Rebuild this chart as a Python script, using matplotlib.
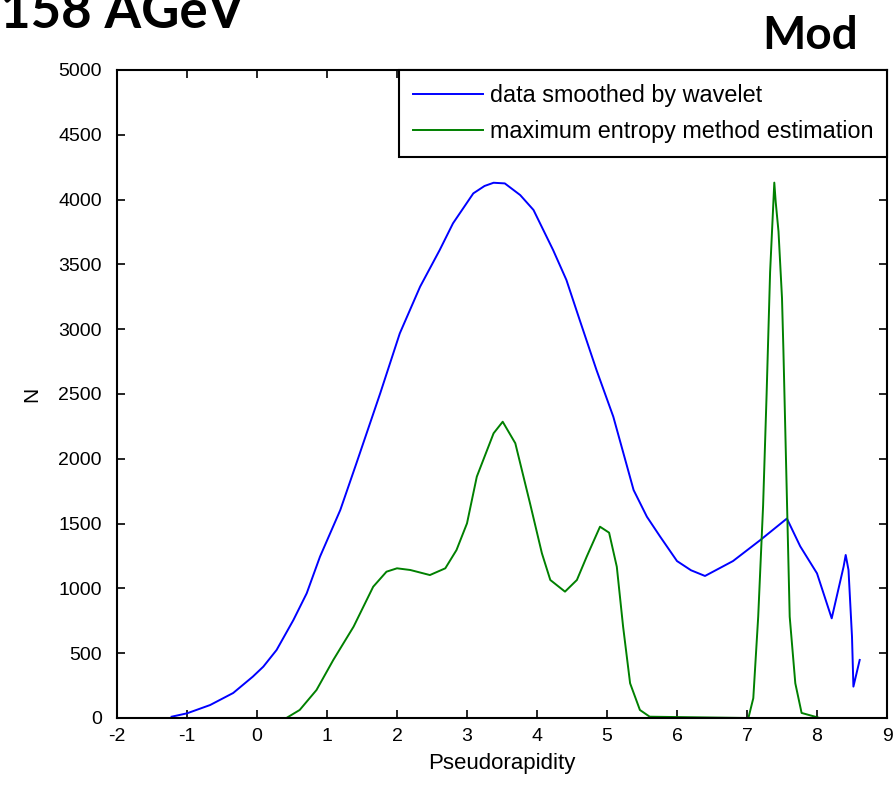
import matplotlib
matplotlib.use("Agg")
import matplotlib.pyplot as plt

# Wavelet-smoothed multiplicity distribution
eta_wavelet = [-1.22, -1.0, -0.67, -0.34, -0.06, 0.09, 0.28, 0.52, 0.71, 0.90,
               1.19, 1.42, 1.76, 2.04, 2.33, 2.61, 2.80, 3.09, 3.25, 3.38,
               3.54, 3.76, 3.95, 4.23, 4.42, 4.61, 4.85, 5.09, 5.38, 5.57,
               5.76, 6.0, 6.2, 6.4, 6.8, 7.19, 7.57, 7.76, 8.0, 8.21,
               8.38, 8.41, 8.45, 8.50, 8.52, 8.61]
n_wavelet = [10, 36, 100, 193, 319, 396, 525, 756, 962, 1245,
             1605, 1965, 2505, 2968, 3328, 3611, 3817, 4048, 4105, 4130,
             4125, 4035, 3920, 3611, 3380, 3071, 2685, 2325, 1759, 1553,
             1399, 1211, 1140, 1096, 1211, 1373, 1539, 1325, 1116, 769,
             1168, 1258, 1142, 627, 242, 448]

# Maximum entropy method estimate
eta_mem = [-0.86, 0.42, 0.61, 0.85, 1.09, 1.38, 1.66, 1.85, 2.0, 2.19,
           2.47, 2.69, 2.85, 3.0, 3.14, 3.38, 3.51, 3.69, 3.90, 4.07,
           4.19, 4.40, 4.57, 4.71, 4.90, 5.03, 5.14, 5.23, 5.33, 5.47,
           5.61, 7.02, 7.09, 7.16, 7.23, 7.28, 7.33, 7.39, 7.41, 7.45,
           7.50, 7.52, 7.57, 7.61, 7.69, 7.78, 8.04]
n_mem = [0, 0, 62, 216, 448, 705, 1013, 1129, 1155, 1142,
         1103, 1155, 1296, 1502, 1862, 2197, 2286, 2120, 1657, 1271,
         1065, 975, 1065, 1245, 1476, 1430, 1167, 705, 268, 62,
         10, 0, 153, 782, 1639, 2497, 3440, 4131, 3982, 3754,
         3240, 2840, 1697, 782, 268, 39, 0]

x_ticks = list(range(-2, 10))
y_ticks = list(range(0, 5001, 500))

plt.rcParams["font.family"] = ["Liberation Sans", "DejaVu Sans"]
plt.rcParams["axes.unicode_minus"] = False

W, H = 896, 788
fig = plt.figure(figsize=(W / 100, H / 100), dpi=100)
ax = fig.add_axes([117 / W, (H - 718) / H, (887 - 117) / W, (718 - 70) / H])

ax.plot(eta_wavelet, n_wavelet, color=(0, 0, 1), lw=1.4,
        label="data smoothed by wavelet")
ax.plot(eta_mem, n_mem, color=(0, 0.5, 0), lw=1.4,
        label="maximum entropy method estimation")

ax.set_xlim(-2, 9)
ax.set_ylim(0, 5000)
ax.set_xticks(x_ticks)
ax.set_yticks(y_ticks)
ax.tick_params(direction="in", top=True, right=True, length=6, width=1.2,
               labelsize=14, colors="black")
ax.tick_params(axis="y", pad=11)
ax.tick_params(axis="x", pad=7)
for s in ax.spines.values():
    s.set_linewidth(1.5)

ax.set_xlabel("Pseudorapidity", fontsize=16, labelpad=6)
ax.set_ylabel("N", fontsize=15, labelpad=12)

leg = ax.legend(loc="upper right", fontsize=16.8, frameon=True, fancybox=False,
                edgecolor="black", framealpha=1, borderaxespad=0,
                handlelength=3.0, handletextpad=0.3, borderpad=0.6,
                labelspacing=0.55)
leg.get_frame().set_linewidth(1.5)

fig.text(0.0, 1 - 28 / H, "158 AGeV", fontsize=38, fontweight="bold",
         family=["Lato", "DejaVu Sans"], ha="left", va="baseline")
fig.text(858 / W, 1 - 49 / H, "Mod", fontsize=33, fontweight="bold",
         family=["Lato", "DejaVu Sans"], ha="right", va="baseline")

fig.savefig("out.png", dpi=100)
